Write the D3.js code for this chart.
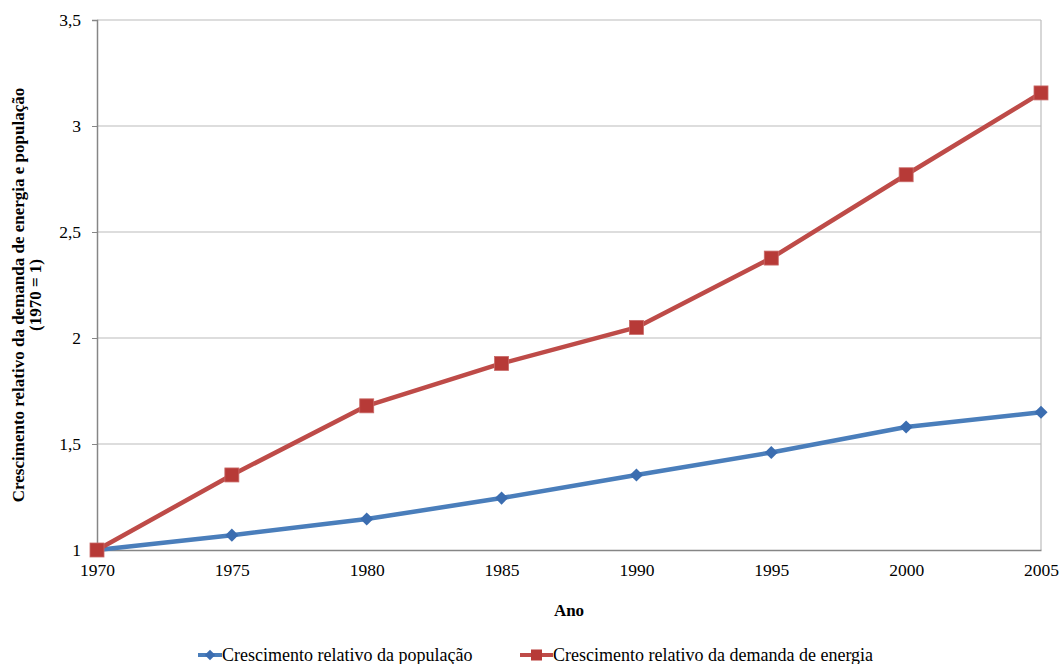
<!DOCTYPE html>
<html><head><meta charset="utf-8">
<script src="https://cdn.jsdelivr.net/npm/d3@7"></script>
<style>body{margin:0;background:#fff}</style>
</head><body><svg id="c" width="1061" height="664"></svg>
<script>
const years = [1970,1975,1980,1985,1990,1995,2000,2005];
const populacao = [1.0,1.07,1.146,1.245,1.354,1.46,1.58,1.65];
const energia = [1.0,1.354,1.68,1.88,2.05,2.377,2.77,3.156];
const yTicks = [1,1.5,2,2.5,3,3.5];
const seriesNames = ["Crescimento relativo da população","Crescimento relativo da demanda de energia"];
const colors = ["#4a7ebb","#be4b48"];
const markerColors = ["#3b6db0","#b73a37"];
const FONT = "'Liberation Serif', 'Times New Roman', Tinos, serif";

const svg = d3.select("#c").attr("font-family",FONT);
const L=97, R=1041, T=20, B=550;
const x = d3.scaleLinear().domain([1970,2005]).range([L,R]);
const y = d3.scaleLinear().domain([1,3.5]).range([B,T]);
const fmt = d => String(d).replace(".",",");

svg.append("g").selectAll("line").data(yTicks.slice(1)).join("line")
  .attr("x1",L).attr("x2",R).attr("y1",d=>y(d)).attr("y2",d=>y(d))
  .attr("stroke","#bcbcbc").attr("stroke-width",1.2);
svg.append("line").attr("x1",R).attr("x2",R).attr("y1",T).attr("y2",B).attr("stroke","#bcbcbc").attr("stroke-width",1.2);

const ya = svg.append("g").attr("transform",`translate(${L},0)`)
  .call(d3.axisLeft(y).tickValues(yTicks).tickFormat(fmt).tickSize(5).tickPadding(11))
  .attr("font-family",FONT).attr("font-size",17.5);
ya.select(".domain").attr("stroke","#868686").attr("stroke-width",1.5);
ya.selectAll(".tick line").attr("stroke","#868686");
ya.selectAll("text").attr("fill","#000");

const xa = svg.append("g").attr("transform",`translate(0,${B})`)
  .call(d3.axisBottom(x).tickValues(years).tickFormat(d3.format("d")).tickSize(0).tickPadding(14))
  .attr("font-family",FONT).attr("font-size",17.5);
xa.select(".domain").attr("stroke","#868686").attr("stroke-width",1.5);
xa.selectAll("text").attr("fill","#000");

const line = d3.line().x((d,i)=>x(years[i])).y(d=>y(d));
[populacao,energia].forEach((s,k)=>{
  svg.append("path").datum(s).attr("d",line).attr("fill","none")
    .attr("stroke",colors[k]).attr("stroke-width",4.5).attr("stroke-linejoin","round");
});
svg.append("g").selectAll("path").data(populacao).join("path")
  .attr("transform",(d,i)=>`translate(${x(years[i])},${y(d)})`)
  .attr("d",d3.symbol(d3.symbolDiamond2,110)())
  .attr("fill",markerColors[0]);
svg.append("g").selectAll("rect").data(energia).join("rect")
  .attr("x",(d,i)=>x(years[i])-7).attr("y",d=>y(d)-7).attr("width",14).attr("height",14)
  .attr("fill",markerColors[1]).attr("stroke","#c96a68").attr("stroke-width",0.8);

svg.append("text").attr("x",(L+R)/2).attr("y",616).attr("text-anchor","middle")
  .attr("font-size",17).attr("font-weight","bold").text("Ano");
const yt = svg.append("text").attr("transform","translate(24,295) rotate(-90)")
  .attr("text-anchor","middle").attr("font-size",17).attr("font-weight","bold");
yt.append("tspan").attr("x",0).attr("y",0).text("Crescimento relativo da demanda de energia e população");
yt.append("tspan").attr("x",0).attr("y",17).text("(1970 = 1)");

const leg = [{x:198,tx:222},{x:520,tx:553}];
leg.forEach((l,k)=>{
  const g = svg.append("g");
  g.append("line").attr("x1",l.x).attr("x2",l.tx).attr("y1",655).attr("y2",655)
    .attr("stroke",colors[k]).attr("stroke-width",4);
  const cx=(l.x+l.tx)/2;
  if(k===0) g.append("path").attr("transform",`translate(${cx},655)`).attr("d",d3.symbol(d3.symbolDiamond2,70)()).attr("fill",markerColors[0]);
  else g.append("rect").attr("x",cx-5.5).attr("y",649.5).attr("width",11).attr("height",11).attr("fill",markerColors[1]);
  g.append("text").attr("x",l.tx).attr("y",661).attr("font-size",18).text(seriesNames[k]);
});
</script></body></html>
